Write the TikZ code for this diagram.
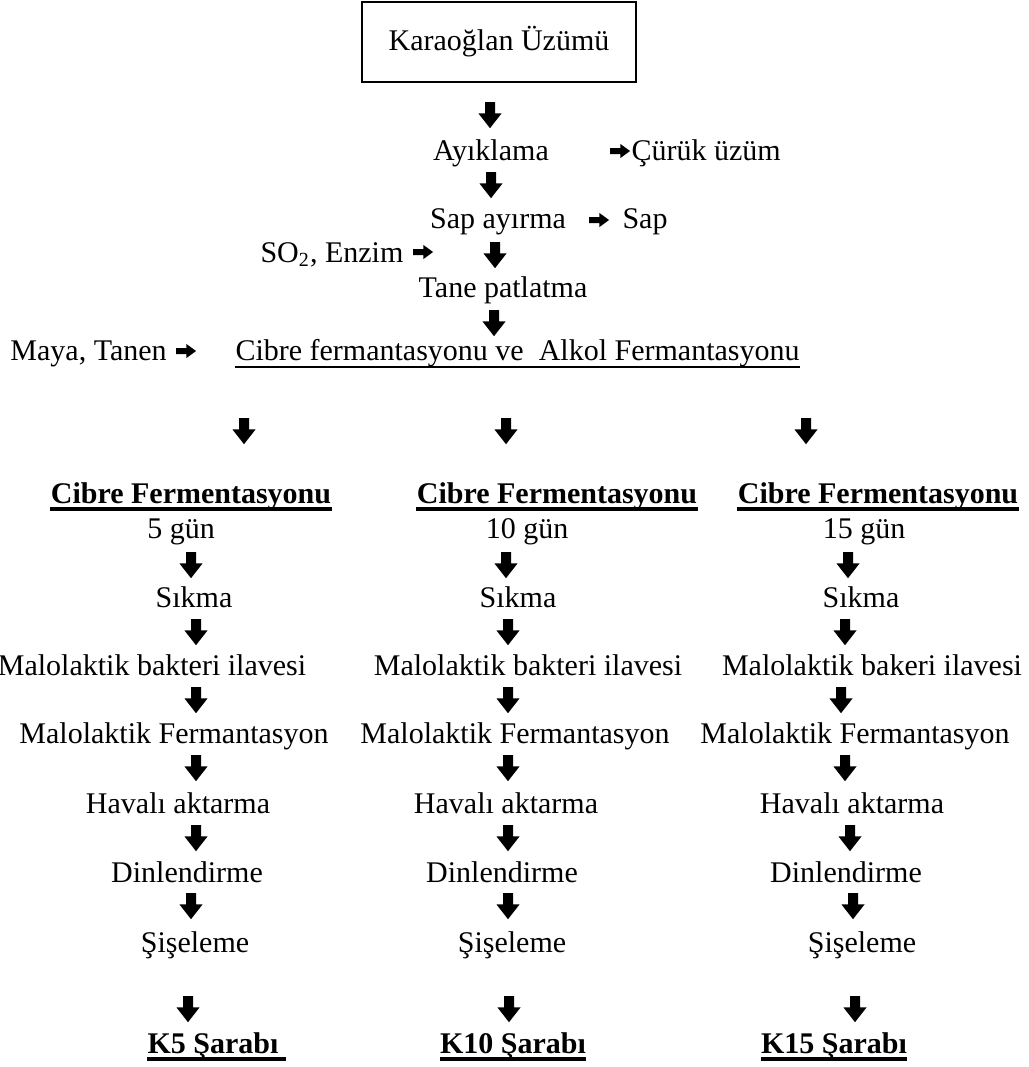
\documentclass[tikz,border=0pt]{standalone}
\usepackage{fontspec}
\setmainfont{Liberation Serif}
\usetikzlibrary{shapes.arrows}

\begin{document}
\begin{tikzpicture}[
x=0.4pt, y=-0.4pt,
font=\fontsize{12pt}{14pt}\selectfont,
lbl/.style={inner sep=0pt, anchor=base},
hdr/.style={lbl, font=\fontsize{12pt}{14pt}\selectfont\bfseries},
darr/.style={single arrow, fill=black, draw=none, inner sep=0pt, inner ysep=1.8pt, minimum height=10.4pt, single arrow head extend=2.6pt, single arrow tip angle=76, rotate=-90},
rarr/.style={single arrow, fill=black, draw=none, inner sep=0pt, inner ysep=1pt, minimum height=8pt, single arrow head extend=1.6pt, single arrow tip angle=72},
uline/.style={line width=0.8pt},
buline/.style={line width=1.6pt}
]
\useasboundingbox (0,0) rectangle (1028,1067);

% --- Ortak basamaklar ---
\node[draw, line width=0.8pt, inner sep=0pt, minimum width=109.6pt, minimum height=32pt] (grape) at (499,42) {Karaoğlan Üzümü};
\node[darr] (down1) at (490,112) {};
\node[lbl] (sort) at (491,160) {Ayıklama};
\node[rarr] (side1) at (618,151) {};
\node[lbl, anchor=base west] (rotten) at (631,160) {Çürük üzüm};
\node[darr] (down2) at (491,182) {};
\node[lbl] (destem) at (498,228) {Sap ayırma};
\node[rarr] (side2) at (597,220) {};
\node[lbl, anchor=base west] (stem) at (622,228) {Sap};
\node[lbl, anchor=base west] (enzyme) at (260,262) {SO\textsubscript{2}, Enzim};
\node[rarr] (side3) at (421,252) {};
\node[darr] (down3) at (495,252) {};
\node[lbl] (crush) at (503,297) {Tane patlatma};
\node[darr] (down4) at (494,320) {};
\node[lbl, anchor=base west] (yeast) at (10,360) {Maya, Tanen};
\node[rarr] (side4) at (184,351) {};
\node[lbl, anchor=base west] (ferm) at (235,360) {Cibre fermantasyonu ve\ \ Alkol Fermantasyonu};
\draw[uline] ([yshift=-2.8pt]ferm.base west) -- ([yshift=-2.8pt]ferm.base east);

% --- Ayrilma ---
\node[darr] (split1) at (244,428) {};
\node[darr] (split2) at (506,428) {};
\node[darr] (split3) at (806,428) {};

% --- 1. kolon: 5 gun ---
\node[hdr] (c1head) at (191,503) {Cibre Fermentasyonu};
\draw[buline] ([yshift=-2.4pt]c1head.base west) -- ([yshift=-2.4pt]c1head.base east);
\node[lbl] (c1days) at (181,538) {5 gün};
\node[darr] (c1a1) at (191,562) {};
\node[lbl] (c1press) at (194,607) {Sıkma};
\node[darr] (c1a2) at (196,629) {};
\node[lbl] (c1bact) at (152,675) {Malolaktik bakteri ilavesi};
\node[darr] (c1a3) at (196,697) {};
\node[lbl] (c1malo) at (174,743) {Malolaktik Fermantasyon};
\node[darr] (c1a4) at (196,765) {};
\node[lbl] (c1aer) at (178,813) {Havalı aktarma};
\node[darr] (c1a5) at (196,835) {};
\node[lbl] (c1rest) at (187,882) {Dinlendirme};
\node[darr] (c1a6) at (191,903) {};
\node[lbl] (c1bottle) at (195,952) {Şişeleme};
\node[darr] (c1a7) at (188,1006) {};
\node[hdr] (c1wine) at (213,1053) {K5 Şarabı};
\draw[buline] ([yshift=-2.4pt]c1wine.base west) -- ([yshift=-2.4pt,xshift=3pt]c1wine.base east);

% --- 2. kolon: 10 gun ---
\node[hdr] (c2head) at (557,503) {Cibre Fermentasyonu};
\draw[buline] ([yshift=-2.4pt]c2head.base west) -- ([yshift=-2.4pt]c2head.base east);
\node[lbl] (c2days) at (527,538) {10 gün};
\node[darr] (c2a1) at (506,562) {};
\node[lbl] (c2press) at (518,607) {Sıkma};
\node[darr] (c2a2) at (508,629) {};
\node[lbl] (c2bact) at (528,675) {Malolaktik bakteri ilavesi};
\node[darr] (c2a3) at (508,697) {};
\node[lbl] (c2malo) at (515,743) {Malolaktik Fermantasyon};
\node[darr] (c2a4) at (508,765) {};
\node[lbl] (c2aer) at (506,813) {Havalı aktarma};
\node[darr] (c2a5) at (508,835) {};
\node[lbl] (c2rest) at (502,882) {Dinlendirme};
\node[darr] (c2a6) at (508,903) {};
\node[lbl] (c2bottle) at (512,952) {Şişeleme};
\node[darr] (c2a7) at (509,1006) {};
\node[hdr] (c2wine) at (513,1053) {K10 Şarabı};
\draw[buline] ([yshift=-2.4pt]c2wine.base west) -- ([yshift=-2.4pt]c2wine.base east);

% --- 3. kolon: 15 gun ---
\node[hdr] (c3head) at (878,503) {Cibre Fermentasyonu};
\draw[buline] ([yshift=-2.4pt]c3head.base west) -- ([yshift=-2.4pt]c3head.base east);
\node[lbl] (c3days) at (864,538) {15 gün};
\node[darr] (c3a1) at (848,562) {};
\node[lbl] (c3press) at (861,607) {Sıkma};
\node[darr] (c3a2) at (845,629) {};
\node[lbl] (c3bact) at (872,675) {Malolaktik bakeri ilavesi};
\node[darr] (c3a3) at (841,697) {};
\node[lbl] (c3malo) at (855,743) {Malolaktik Fermantasyon};
\node[darr] (c3a4) at (845,765) {};
\node[lbl] (c3aer) at (852,813) {Havalı aktarma};
\node[darr] (c3a5) at (850,835) {};
\node[lbl] (c3rest) at (846,882) {Dinlendirme};
\node[darr] (c3a6) at (853,903) {};
\node[lbl] (c3bottle) at (862,952) {Şişeleme};
\node[darr] (c3a7) at (855,1006) {};
\node[hdr] (c3wine) at (834,1053) {K15 Şarabı};
\draw[buline] ([yshift=-2.4pt]c3wine.base west) -- ([yshift=-2.4pt]c3wine.base east);

\end{tikzpicture}
\end{document}
